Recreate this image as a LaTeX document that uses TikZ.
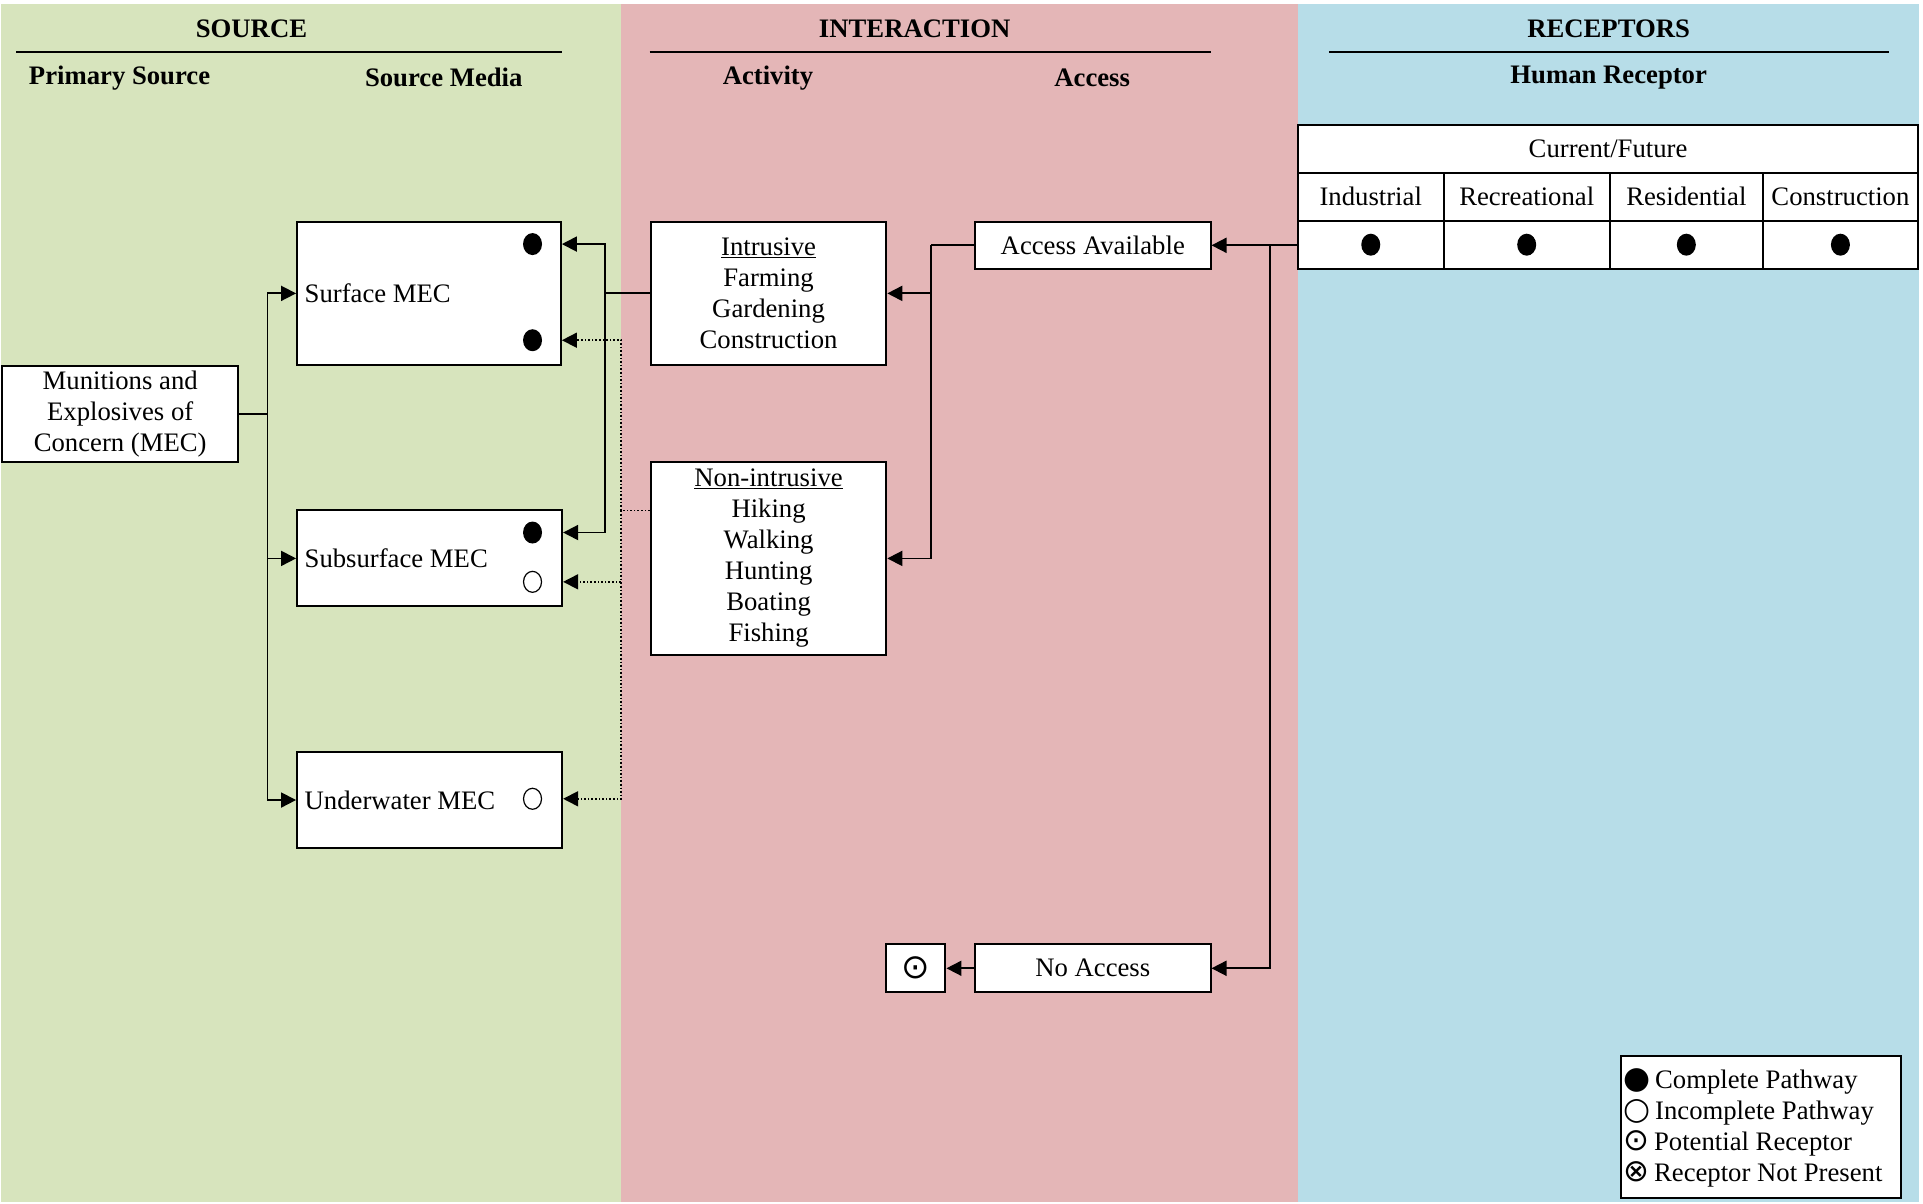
\documentclass[tikz,border=0pt]{standalone}
\usepackage{fontspec}
\setmainfont{Liberation Serif}
\newfontfamily\symfont{DejaVu Sans}
\usetikzlibrary{arrows.meta,shapes.geometric}
\definecolor{srcgreen}{HTML}{D7E4BD}
\definecolor{intpink}{HTML}{E4B6B7}
\definecolor{recblue}{HTML}{B7DDE8}
\newcommand{\legsym}[1]{{\fontsize{31}{31}\selectfont\symfont #1}}
\begin{document}
\begin{tikzpicture}[x=1.2327pt, y=-1.2327pt,
  every node/.style={font=\fontsize{26.7}{31}\selectfont, inner sep=0pt},
  hdr/.style={font=\fontsize{26.7}{31}\selectfont\bfseries},
  wh/.style 2 args={minimum width=#1*1.2327pt, minimum height=#2*1.2327pt},
  box/.style={draw, fill=white, line width=2pt, align=center},
  cell/.style={draw, fill=white, line width=2pt},
  hline/.style={line width=1.8pt},
  conn/.style={line width=1.8pt},
  arr/.style={conn, -{Triangle[length=15pt,width=15pt]}},
  dotl/.style={line width=1.6pt, dotted},
  dotarr/.style={dotl, -{Triangle[length=15pt,width=15pt]}},
  fdot/.style={ellipse, fill=black, minimum width=19pt, minimum height=22pt},
  odot/.style={ellipse, draw, line width=1.2pt, fill=white, minimum width=18pt, minimum height=21pt}
]
\useasboundingbox (0,0) rectangle (1560,976.7);
\fill[white] (0,0) rectangle (1560,976.7);
% panels
\fill[srcgreen] (1,3) rectangle (504,975);
\fill[intpink] (504,3) rectangle (1053,975);
\fill[recblue] (1053,3) rectangle (1557,975);

% headers
\node[hdr] (hsrc) at (204,23) {SOURCE};
\draw[hline] (13,42) -- (456,42);
\node[hdr] (hps) at (97,63) {Primary Source};
\node[hdr] (hsm) at (360,63) {Source Media};
\node[hdr] (hint) at (742,23) {INTERACTION};
\draw[hline] (527,42) -- (982,42);
\node[hdr] (hact) at (623,63) {Activity};
\node[hdr] (hacc) at (886,63) {Access};
\node[hdr] (hrec) at (1305,23) {RECEPTORS};
\draw[hline] (1078,42) -- (1532,42);
\node[hdr] (hhr) at (1305,63) {Human Receptor};

% table
\node[cell, wh={503}{39}] (cf) at (1304.5,120.5) {Current/Future};
\node[cell, wh={118}{39}] (ind) at (1112,159.5) {Industrial};
\node[cell, wh={135}{39}] (rec) at (1238.5,159.5) {Recreational};
\node[cell, wh={124}{39}] (res) at (1368,159.5) {Residential};
\node[cell, wh={126}{39}] (con) at (1493,159.5) {Construction};
\node[cell, wh={118}{39}] (indd) at (1112,198.5) {};
\node[cell, wh={135}{39}] (recd) at (1238.5,198.5) {};
\node[cell, wh={124}{39}] (resd) at (1368,198.5) {};
\node[cell, wh={126}{39}] (cond) at (1493,198.5) {};
\node[fdot] (t1) at (indd) {};
\node[fdot] (t2) at (recd) {};
\node[fdot] (t3) at (resd) {};
\node[fdot] (t4) at (cond) {};

% source boxes
\node[box, wh={191}{78}] (mec) at (97.5,336) {Munitions and\\Explosives of\\Concern (MEC)};
\node[box, wh={214}{116}] (surf) at (348,238) {};
\node[anchor=west] (surft) at (247,238) {Surface MEC};
\node[fdot] (s1) at (432,198) {};
\node[fdot] (s2) at (432,276) {};
\node[box, wh={215}{78}] (sub) at (348.5,453) {};
\node[anchor=west] (subt) at (247,453) {Subsurface MEC};
\node[fdot] (b1) at (432,432) {};
\node[odot] (b2) at (432,472) {};
\node[box, wh={215}{78}] (und) at (348.5,649) {};
\node[anchor=west] (undt) at (247,649) {Underwater MEC};
\node[odot] (u1) at (432,648) {};

% interaction boxes
\node[box, wh={191}{116}] (intr) at (623.5,238) {\underline{Intrusive}\\Farming\\Gardening\\Construction};
\node[box, wh={191}{156}] (nonint) at (623.5,453) {\underline{Non-intrusive}\\Hiking\\Walking\\Hunting\\Boating\\Fishing};
\node[box, wh={191}{38}] (avail) at (886.5,199) {Access Available};
\node[box, wh={191}{39}] (noacc) at (886.5,785.5) {No Access};
\node[box, wh={48}{39}] (pot) at (743,785.5) {\fontsize{34}{34}\selectfont\symfont ⊙};

% legend
\node[box, wh={227}{115}] (legend) at (1428.5,914.5) {};
\node[anchor=west, align=left] (legt) at (1317,915) {\legsym{●}\,Complete Pathway\\\legsym{○}\,Incomplete Pathway\\\legsym{⊙}\,Potential Receptor\\\legsym{⊗}\,Receptor Not Present};

% connectors: source
\coordinate (jm) at (217,336);
\draw[conn] (mec.east) -- (jm);
\draw[arr] (jm) |- (surf.west);
\draw[arr] (jm) |- (sub.west);
\draw[arr] (jm) |- (und.west);

% intrusive -> source media
\coordinate (ji) at (491,238);
\draw[conn] (intr.west) -- (ji);
\draw[arr] (ji) |- (surf.east |- s1);
\draw[arr] (ji) |- (sub.east |- b1);

% non-intrusive -> source media (dotted)
\coordinate (jn) at (504,414);
\draw[dotl] (nonint.west |- jn) -- (jn);
\draw[dotarr] (jn) |- (surf.east |- s2);
\draw[dotarr] (jn) |- (sub.east |- b2);
\draw[dotarr] (jn) |- (und.east |- u1);

% access available -> activities
\coordinate (ja) at (755,199);
\draw[conn] (avail.west) -- (ja);
\draw[arr] (ja) |- (intr.east);
\draw[arr] (ja) |- (nonint.east);

% receptors -> access
\coordinate (jr) at (1030,199);
\draw[arr] (indd.west |- avail) -- (avail.east);
\draw[arr] (jr) |- (noacc.east);
\draw[arr] (noacc.west) -- (pot.east);
\end{tikzpicture}
\end{document}
